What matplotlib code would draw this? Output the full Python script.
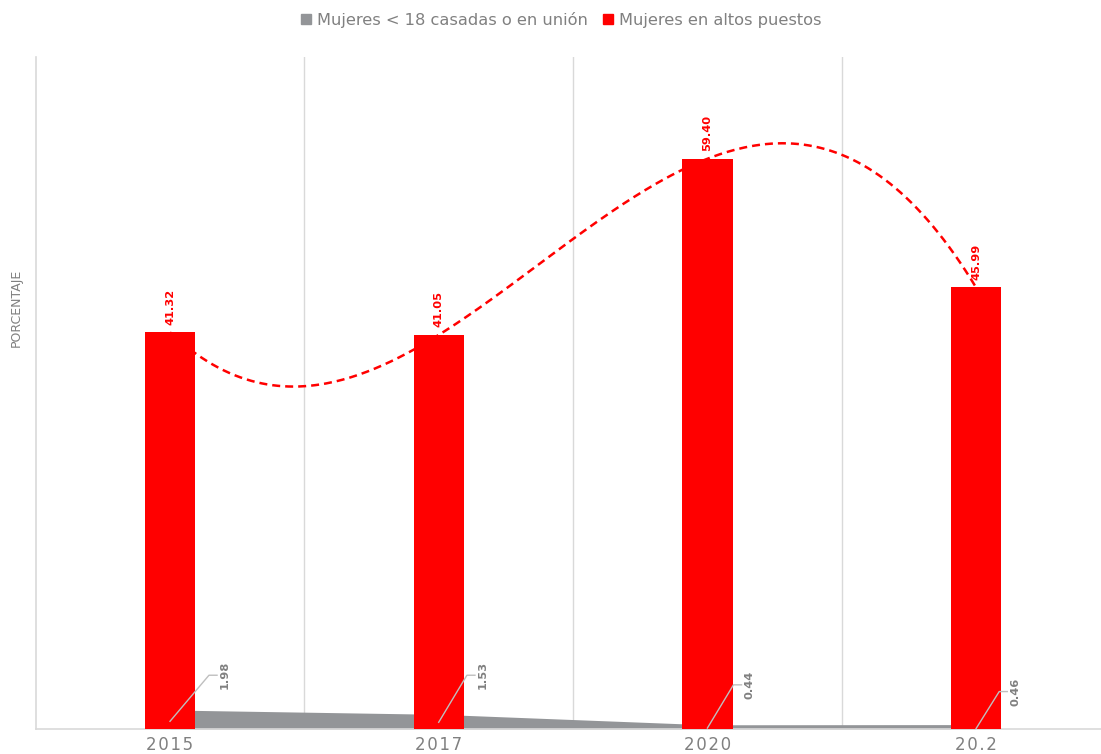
import numpy as np
import matplotlib.pyplot as plt
from matplotlib.lines import Line2D

# data
years = ['2015', '2017', '2020', '20.2']
mujeres_union = [1.98, 1.53, 0.44, 0.46]
mujeres_puestos = [41.32, 41.05, 59.40, 45.99]

# leader line geometry for the gray labels (dx corner, y corner, y start)
leader_dx = [0.145, 0.105, 0.097, 0.086]
leader_y = [5.6, 5.6, 4.6, 3.9]
leader_y0 = [0.8, 0.7, 0.1, 0.05]

RED = '#FF0000'
GRAY = '#939598'
TXT = '#808080'

plt.rcParams['font.family'] = ['DejaVu Sans']

unit = 268.7
left = 170 - unit / 2
fig = plt.figure(figsize=(11.01, 7.54), dpi=100)
ax = fig.add_axes([left / 1101, 25 / 754, 1 - left / 1101, (729 - 57) / 754])

x = np.arange(len(years))

# gray area (behind bars)
ax.fill_between(x, 0, mujeres_union, color=GRAY, linewidth=0, zorder=2)

# red bars
ax.bar(x, mujeres_puestos, width=0.187, color=RED, zorder=3)

# polynomial (order 3) trend line of red series
coef = np.polyfit(x, mujeres_puestos, 3)
xs = np.linspace(0, 3, 300)
ax.plot(xs, np.polyval(coef, xs), color=RED, linestyle=(0, (3.2, 2)), lw=1.8, zorder=2.5)

# data labels red
for xi, v in zip(x, mujeres_puestos):
    ax.text(xi, v + 0.8, '%.2f' % v, rotation=90, ha='center', va='bottom',
            color=RED, fontsize=8.2, fontweight='bold', zorder=5)

# data labels gray with leader lines
for xi, v, dx, y1, y0 in zip(x, mujeres_union, leader_dx, leader_y, leader_y0):
    x1 = xi + dx
    ax.plot([xi, x1, x1 + 0.03], [y0, y1, y1], color='#BFBFBF', lw=1, zorder=4)
    ax.text(x1 + 0.06, y1, '%.2f' % v, rotation=90, ha='center', va='center',
            color=TXT, fontsize=8.2, fontweight='bold', zorder=5)

ax.set_xlim(-0.5, -0.5 + (1101 - left) / unit)
ax.set_ylim(0, 70)
ax.set_yticks([])
ax.set_xticks(x)
ax.set_xticklabels(['\u200a'.join(y) for y in years], fontsize=12, color=TXT)
ax.tick_params(axis='x', length=0, pad=5)

# category separators
for b in [0.5, 1.5, 2.5]:
    ax.axvline(b, color='#D9D9D9', lw=1, zorder=1)

for s in ['top', 'right']:
    ax.spines[s].set_visible(False)
ax.spines['left'].set_color('#D9D9D9')
ax.spines['bottom'].set_color('#D9D9D9')
ax.spines['left'].set_linewidth(1.2)
ax.spines['bottom'].set_linewidth(1.2)

fig.text(16 / 1101, 1 - 308 / 754, 'PORCENTAJE', rotation=90, ha='center', va='center',
         color=TXT, fontsize=9)

handles = [Line2D([], [], marker='s', linestyle='none', color=GRAY, markersize=7),
           Line2D([], [], marker='s', linestyle='none', color=RED, markersize=7)]
fig.legend(handles, ['Mujeres < 18 casadas o en unión', 'Mujeres en altos puestos'],
           loc='center', bbox_to_anchor=(561 / 1101, 1 - 20 / 754), ncol=2, frameon=False,
           fontsize=11.7, labelcolor=TXT, handlelength=0.7, handletextpad=0.3,
           columnspacing=0.9)

fig.savefig('out.png', dpi=100)
